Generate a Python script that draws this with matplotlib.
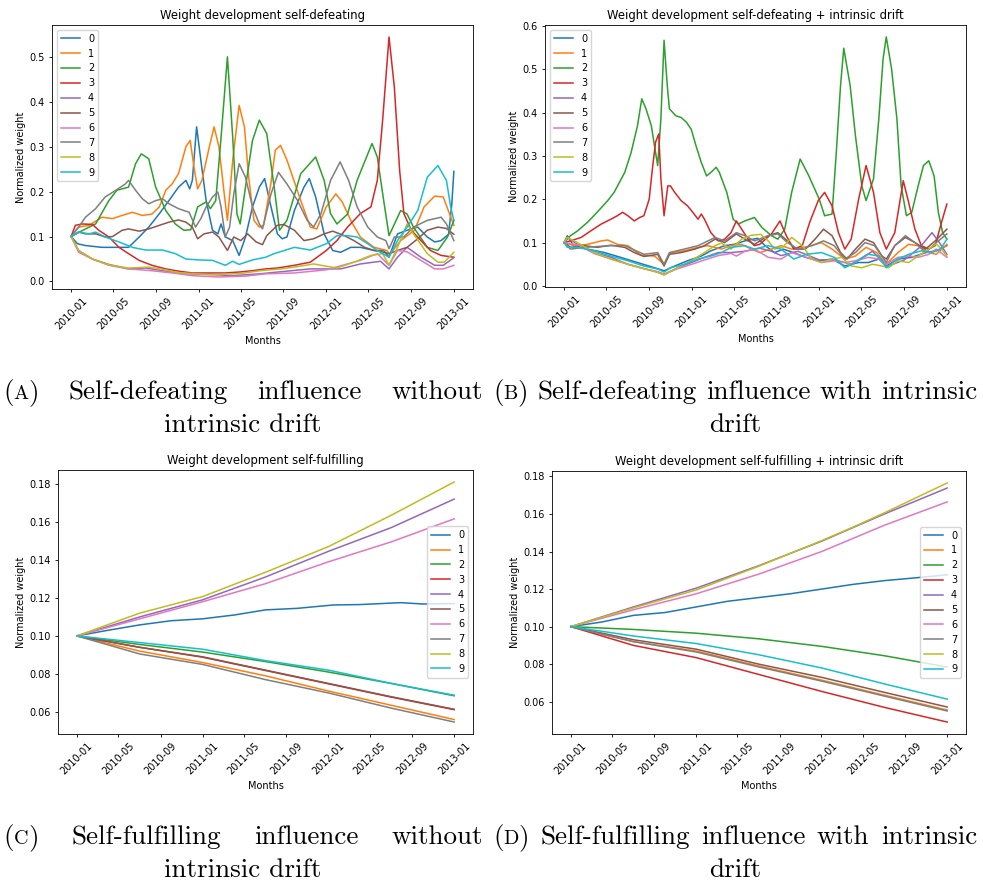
import numpy as np
import matplotlib
matplotlib.use("Agg")
import matplotlib.pyplot as plt
import matplotlib.dates as mdates
from matplotlib import rcParams

# 配置 (scaled-down default look)
config = {
    "font.family": ["DejaVu Sans"],
    "font.size": 7,
    "axes.titlesize": 8.4,
    "axes.labelsize": 7,
    "xtick.labelsize": 7,
    "ytick.labelsize": 7,
    "legend.fontsize": 7,
    "axes.linewidth": 0.6,
    "xtick.major.width": 0.6,
    "ytick.major.width": 0.6,
    "xtick.major.size": 2.5,
    "ytick.major.size": 2.5,
    "xtick.major.pad": 2.5,
    "ytick.major.pad": 2.5,
    "axes.titlepad": 4.2,
    "axes.labelpad": 2.8,
    "lines.linewidth": 1.1,
}
rcParams.update(config)

# ---- data: (months since 2010-01, normalized weight) ----
# self-defeating
a_s0 = [(0, .100), (0.6, .084), (1.35, .080), (2.9, .076), (4.5, .076), (5.4, .076), (6.4, .099), (7.3, .121),
        (8.3, .151), (9.2, .180), (10.1, .210), (10.8, .225), (11.15, .206), (11.4, .225), (11.8, .344),
        (12.2, .270), (12.7, .180), (13.3, .114), (13.8, .106), (14.1, .128), (14.5, .099), (15.2, .091),
        (15.8, .058), (16.4, .099), (17.06, .166), (17.7, .210), (18.2, .229), (18.8, .166), (19.4, .106),
        (19.85, .095), (20.3, .099), (21.0, .158), (21.9, .210), (22.4, .229), (23.0, .188), (23.8, .106),
        (24.6, .069), (25.35, .065), (26.3, .076), (27.2, .076), (28.5, .069), (29.4, .069), (29.9, .054),
        (30.7, .106), (31.6, .114), (32.6, .121), (33.5, .099), (34.2, .088), (34.8, .091), (35.5, .105),
        (35.8, .170), (36, .245)]
a_s1 = [(0, .100), (0.7, .121), (1.7, .125), (2.9, .143), (3.9, .140), (4.8, .147), (5.75, .154), (6.7, .147),
        (7.6, .150), (8.3, .166), (8.9, .203), (9.5, .217), (10.1, .240), (10.8, .300), (11.2, .314),
        (11.6, .247), (11.9, .206), (12.3, .225), (13.0, .300), (13.45, .344), (13.9, .300), (14.4, .195),
        (14.7, .136), (15.2, .270), (15.8, .392), (16.3, .344), (16.7, .232), (17.2, .136), (17.7, .121),
        (18.1, .125), (18.8, .220), (19.2, .292), (19.7, .303), (20.3, .270), (21.6, .180), (22.5, .121),
        (23.1, .117), (24.0, .166), (24.9, .195), (25.5, .177), (26.3, .136), (27.2, .099), (28.5, .076),
        (29.7, .069), (29.95, .060), (31.0, .091), (32.3, .114), (33.2, .166), (34.2, .190), (35.0, .188),
        (35.6, .150), (36, .125)]
a_s2 = [(0, .100), (1.35, .117), (2.3, .128), (3.55, .180), (4.3, .203), (5.4, .210), (6.06, .262), (6.6, .284),
        (7.3, .273), (7.95, .210), (8.9, .158), (9.8, .128), (10.6, .114), (11.25, .115), (11.9, .166),
        (12.7, .177), (13.1, .162), (13.6, .180), (14.1, .320), (14.7, .500), (15.2, .320), (15.6, .150),
        (15.9, .128), (16.4, .210), (17.06, .314), (17.7, .359), (18.4, .329), (19.1, .210), (19.6, .114),
        (20.3, .136), (21.6, .240), (23.0, .277), (23.8, .225), (24.4, .151), (25.0, .128), (26.0, .150),
        (26.9, .225), (28.3, .307), (28.8, .277), (29.4, .180), (29.9, .102), (31.0, .158), (31.6, .150),
        (32.2, .121), (33.5, .076), (34.5, .069), (35.4, .099), (36, .136)]
a_s3 = [(0, .100), (0.4, .125), (1.04, .128), (2.0, .127), (2.6, .114), (3.55, .099), (4.5, .076), (5.4, .062),
        (6.4, .047), (7.6, .036), (8.9, .028), (10.1, .023), (11.4, .019), (13.3, .019), (14.5, .019),
        (15.8, .021), (17.06, .024), (18.3, .028), (19.4, .030), (21.0, .036), (22.5, .043), (24.0, .069),
        (25.0, .091), (26.0, .121), (27.2, .151), (28.2, .166), (28.8, .225), (29.3, .359), (29.9, .544),
        (30.4, .433), (30.9, .247), (31.3, .151), (32.0, .114), (32.9, .091), (33.8, .069), (34.8, .058),
        (36, .054)]
a_s4 = [(0, .100), (0.7, .069), (2.0, .050), (3.55, .038), (5.4, .028), (7.0, .030), (8.6, .024), (10.8, .017),
        (12.7, .016), (15.2, .013), (17.7, .017), (20.3, .023), (22.5, .028), (25.35, .028), (27.2, .039),
        (29.1, .045), (29.9, .028), (30.7, .054), (31.6, .076), (32.9, .054), (34.2, .036), (35.0, .036),
        (36, .053)]
a_s5 = [(0, .100), (0.7, .110), (1.35, .106), (2.3, .106), (3.2, .099), (3.9, .100), (4.8, .114), (5.4, .117),
        (6.4, .112), (7.3, .117), (8.3, .125), (9.2, .132), (10.1, .137), (10.8, .132), (11.4, .121),
        (11.9, .095), (12.5, .106), (13.3, .110), (13.9, .099), (14.7, .069), (15.3, .099), (15.96, .091),
        (16.6, .106), (17.4, .088), (18.0, .082), (18.4, .102), (19.4, .125), (20.0, .127), (21.0, .114),
        (21.9, .091), (22.8, .095), (23.8, .106), (24.6, .112), (25.7, .102), (26.6, .091), (27.6, .076),
        (28.5, .069), (29.4, .065), (29.9, .062), (30.7, .069), (31.6, .076), (32.6, .095), (33.5, .114),
        (34.5, .121), (35.3, .118), (36, .105)]
a_s6 = [(0, .100), (0.7, .065), (2.0, .050), (3.55, .036), (5.4, .028), (7.6, .024), (9.5, .019), (11.4, .013),
        (13.9, .010), (16.4, .012), (18.3, .017), (21.0, .019), (24.0, .026), (27.2, .047), (28.8, .062),
        (29.9, .036), (30.7, .069), (31.6, .066), (32.9, .047), (34.2, .028), (35.0, .028), (36, .036)]
a_s7 = [(0, .100), (0.7, .121), (1.35, .143), (2.3, .162), (3.2, .188), (4.2, .203), (5.1, .217), (5.4, .225),
        (6.06, .203), (6.7, .184), (7.3, .173), (7.95, .180), (8.6, .184), (9.2, .173), (10.1, .162),
        (11.1, .154), (11.7, .121), (12.2, .140), (12.7, .166), (13.3, .188), (13.8, .199), (14.1, .166),
        (14.5, .099), (14.9, .121), (15.3, .195), (15.8, .262), (16.4, .232), (17.06, .166), (17.7, .128),
        (18.0, .117), (18.8, .195), (19.5, .243), (20.3, .217), (21.3, .180), (22.2, .136), (22.8, .121),
        (23.5, .151), (24.4, .225), (25.3, .266), (26.1, .225), (26.9, .166), (27.9, .121), (28.8, .099),
        (29.6, .091), (29.9, .073), (30.4, .099), (31.3, .099), (32.2, .121), (33.5, .136), (34.8, .143),
        (35.3, .128), (36, .091)]
a_s8 = [(0, .100), (0.7, .069), (2.0, .050), (3.55, .037), (5.4, .030), (7.3, .032), (8.6, .027), (10.0, .020),
        (13.0, .015), (16.0, .018), (17.8, .024), (19.7, .028), (21.0, .032), (22.8, .039), (25.0, .030),
        (26.6, .043), (28.2, .058), (29.3, .062), (29.9, .036), (30.7, .076), (31.6, .128), (32.2, .106),
        (33.5, .062), (34.5, .043), (35.1, .043), (36, .065)]
a_s9 = [(0, .100), (0.7, .110), (1.7, .106), (2.3, .110), (3.2, .099), (4.5, .088), (5.75, .076), (7.0, .070),
        (8.6, .070), (9.8, .062), (10.8, .050), (12.0, .048), (13.3, .047), (14.5, .036), (15.2, .045),
        (15.8, .038), (17.06, .048), (18.3, .054), (19.1, .062), (21.0, .076), (22.5, .070), (24.0, .084),
        (25.0, .102), (26.0, .102), (26.9, .099), (27.9, .084), (28.8, .069), (29.9, .054), (30.7, .091),
        (31.6, .121), (32.6, .158), (33.5, .232), (34.5, .258), (35.3, .225), (35.7, .166), (36, .136)]

# self-defeating + intrinsic drift
b_s0 = [(0, .100), (0.3, .116), (0.9, .093), (2.2, .085), (3.8, .077), (5.3, .066), (6.9, .054), (8.5, .042),
        (9.4, .035), (10.4, .046), (11.6, .058), (12.9, .069), (13.8, .081), (15.1, .093), (16.0, .096),
        (17.0, .104), (18.2, .110), (18.9, .093), (19.8, .077), (20.6, .085), (21.6, .077), (22.7, .066),
        (24.0, .058), (25.2, .062), (26.4, .046), (27.7, .054), (28.6, .054), (29.6, .062), (30.3, .046),
        (31.4, .062), (32.7, .066), (34.0, .077), (35.0, .081), (36, .093)]
b_s1 = [(0, .100), (0.9, .093), (2.2, .096), (3.5, .104), (4.1, .106), (5.0, .096), (6.0, .093), (7.2, .071),
        (8.5, .069), (9.4, .050), (10.0, .077), (11.3, .081), (12.6, .089), (13.5, .093), (14.8, .085),
        (15.7, .093), (16.7, .096), (17.6, .085), (18.4, .077), (19.5, .085), (20.4, .093), (21.4, .085),
        (22.7, .089), (24.2, .100), (25.2, .085), (26.4, .062), (27.4, .069), (28.4, .089), (29.4, .077),
        (30.3, .050), (31.4, .077), (32.4, .096), (33.3, .093), (34.3, .077), (35.0, .073), (36, .096)]
b_s2 = [(0, .100), (0.6, .116), (1.26, .127), (2.2, .147), (3.1, .170), (4.1, .197), (4.7, .216), (5.7, .262),
        (6.3, .308), (6.9, .370), (7.3, .432), (7.7, .409), (8.2, .370), (8.6, .308), (8.8, .278), (9.1, .386),
        (9.4, .567), (9.7, .463), (9.9, .409), (10.5, .393), (11.0, .389), (11.5, .378), (11.95, .362),
        (12.4, .324), (12.9, .285), (13.4, .254), (13.8, .262), (14.3, .274), (14.6, .262), (15.3, .216),
        (15.9, .154), (16.4, .143), (17.0, .150), (17.9, .158), (18.6, .135), (19.5, .116), (20.1, .108),
        (20.75, .131), (21.4, .216), (22.2, .293), (23.0, .255), (24.0, .200), (24.5, .162), (25.2, .166),
        (25.6, .308), (26.0, .463), (26.3, .549), (26.9, .463), (27.4, .347), (28.0, .231), (28.4, .197),
        (29.1, .247), (29.6, .386), (30.0, .524), (30.3, .575), (30.8, .501), (31.3, .386), (31.7, .231),
        (32.2, .162), (32.7, .170), (33.3, .231), (33.8, .278), (34.3, .289), (34.8, .254), (35.2, .170),
        (35.6, .123), (36, .108)]
b_s3 = [(0, .100), (0.6, .104), (1.6, .112), (2.5, .127), (3.5, .143), (4.4, .154), (5.0, .162), (5.5, .170),
        (6.0, .162), (6.6, .150), (7.1, .158), (7.5, .162), (8.0, .200), (8.3, .270), (8.6, .332), (8.9, .351),
        (9.1, .247), (9.4, .162), (9.75, .231), (10.0, .231), (10.4, .216), (11.0, .197), (11.6, .185),
        (12.1, .170), (12.6, .154), (12.9, .166), (13.2, .154), (13.8, .123), (14.5, .104), (15.1, .108),
        (15.7, .123), (16.2, .150), (16.7, .131), (17.3, .108), (17.9, .093), (18.4, .096), (19.5, .120),
        (20.3, .150), (20.9, .116), (21.6, .085), (22.4, .093), (23.1, .147), (23.9, .197), (24.5, .216),
        (25.2, .185), (25.8, .123), (26.4, .085), (27.0, .108), (27.7, .200), (28.4, .278), (29.1, .216),
        (29.7, .123), (30.3, .085), (31.1, .123), (31.9, .243), (32.4, .193), (33.0, .131), (33.6, .093),
        (34.3, .085), (34.9, .093), (35.5, .147), (36, .189)]
b_s4 = [(0, .100), (0.3, .112), (1.26, .096), (2.8, .077), (4.4, .066), (6.0, .050), (7.5, .040), (8.8, .032),
        (9.4, .027), (10.7, .042), (11.95, .054), (13.2, .066), (14.5, .077), (15.7, .077), (17.0, .080),
        (18.4, .087), (19.5, .080), (20.4, .070), (22.0, .080), (24.0, .060), (25.5, .060), (27.0, .050),
        (29.0, .080), (30.4, .045), (32.0, .060), (33.5, .090), (34.6, .123), (35.3, .100), (36, .073)]
b_s5 = [(0, .100), (0.6, .089), (1.9, .093), (3.1, .089), (4.4, .094), (5.7, .089), (6.6, .077), (7.5, .068),
        (8.8, .073), (9.4, .046), (9.9, .073), (11.0, .077), (12.3, .085), (13.2, .093), (14.2, .108),
        (15.1, .100), (16.2, .120), (17.0, .108), (17.9, .096), (19.2, .116), (20.1, .123), (21.0, .104),
        (21.8, .085), (22.7, .085), (23.6, .108), (24.4, .131), (25.2, .116), (26.0, .077), (26.6, .062),
        (27.4, .085), (28.3, .108), (29.1, .100), (29.9, .069), (30.3, .062), (31.1, .093), (32.1, .112),
        (33.0, .100), (34.0, .085), (34.9, .104), (36, .131)]
b_s6 = [(0, .100), (1.3, .095), (2.8, .075), (4.4, .062), (6.0, .050), (7.5, .040), (8.8, .033), (9.4, .027),
        (10.7, .040), (12.0, .050), (13.2, .060), (14.5, .070), (15.7, .075), (16.2, .069), (17.0, .080),
        (17.9, .085), (19.2, .066), (20.4, .062), (21.4, .077), (22.4, .069), (23.3, .062), (24.2, .054),
        (25.4, .058), (26.4, .054), (27.4, .058), (28.6, .066), (29.6, .062), (30.3, .050), (31.4, .066),
        (32.4, .069), (33.3, .066), (34.3, .073), (35.0, .085), (36, .066)]
b_s7 = [(0, .100), (0.6, .085), (1.9, .089), (4.4, .093), (5.7, .093), (7.5, .073), (8.8, .077), (9.4, .050),
        (9.9, .077), (11.3, .085), (12.6, .093), (13.2, .100), (14.2, .112), (15.1, .104), (16.2, .123),
        (17.0, .116), (17.9, .104), (19.2, .116), (20.1, .120), (21.0, .100), (22.0, .085), (23.3, .093),
        (24.4, .104), (25.4, .093), (26.4, .062), (27.4, .077), (28.3, .100), (29.2, .093), (30.3, .054),
        (31.1, .093), (32.1, .116), (33.0, .100), (34.0, .077), (35.0, .100), (36, .120)]
b_s8 = [(0, .100), (0.3, .112), (1.26, .100), (2.8, .077), (4.4, .062), (6.0, .050), (7.5, .040), (8.8, .031),
        (9.4, .025), (10.7, .042), (11.95, .058), (13.2, .077), (14.2, .093), (14.8, .099), (15.7, .085),
        (16.7, .108), (17.6, .117), (18.5, .119), (19.2, .104), (19.8, .085), (20.6, .090), (21.4, .112),
        (22.4, .093), (23.3, .062), (24.2, .054), (25.2, .062), (26.1, .066), (27.0, .046), (28.0, .042),
        (29.0, .050), (29.9, .046), (30.5, .042), (31.4, .058), (32.4, .054), (33.3, .069), (34.3, .085),
        (35.0, .097), (35.5, .085), (36, .069)]
b_s9 = [(0, .100), (0.3, .089), (1.26, .089), (2.8, .081), (4.4, .069), (6.0, .058), (7.5, .046), (8.8, .039),
        (9.4, .032), (10.0, .042), (11.3, .050), (12.6, .062), (13.8, .069), (14.8, .077), (15.7, .089),
        (17.0, .093), (17.9, .085), (19.2, .093), (20.4, .085), (21.6, .062), (22.8, .073), (24.2, .077),
        (25.4, .066), (26.4, .042), (27.4, .054), (28.6, .073), (29.6, .069), (30.3, .042), (31.1, .058),
        (32.4, .073), (33.6, .081), (34.6, .077), (35.4, .085), (36, .108)]

# self-fulfilling
c_s0 = [(0, .100), (3, .103), (6, .1058), (9, .108), (12, .109), (15, .111), (18, .1137), (21, .1145),
        (24.5, .1163), (27, .1165), (30.9, .1175), (33, .1168), (36, .117)]
c_s1 = [(0, .100), (6, .092), (12, .086), (18, .079), (24, .071), (30, .0635), (36, .056)]
c_s2 = [(0, .100), (6, .0955), (12, .0915), (18, .0865), (24, .081), (30, .075), (36, .0685)]
c_s3 = [(0, .100), (6, .094), (12, .0888), (18, .0818), (24, .0748), (30, .0678), (36, .0612)]
c_s4 = [(0, .100), (6, .110), (12, .119), (18, .131), (24, .1445), (30, .157), (36, .172)]
c_s5 = [(0, .100), (6, .094), (12, .089), (18, .082), (24, .075), (30, .068), (36, .0614)]
c_s6 = [(0, .100), (6, .109), (12, .118), (18, .1275), (24, .139), (30, .1495), (36, .1616)]
c_s7 = [(0, .100), (6, .0905), (12, .085), (18, .077), (24, .070), (30, .062), (36, .0547)]
c_s8 = [(0, .100), (6, .112), (12, .1207), (18, .1335), (24, .147), (30, .1635), (36, .181)]
c_s9 = [(0, .100), (6, .0965), (12, .093), (18, .087), (24, .082), (30, .075), (36, .0688)]

# self-fulfilling + intrinsic drift
d_s0 = [(0, .100), (3, .1025), (6, .106), (9, .1075), (12, .1105), (15, .1135), (18, .1155), (21, .1175),
        (24, .120), (27, .1225), (30, .1245), (33, .126), (36, .1276)]
d_s1 = [(0, .100), (6, .092), (12, .087), (18, .079), (24, .0715), (30, .0635), (36, .0556)]
d_s2 = [(0, .100), (6, .0985), (12, .0965), (18, .0935), (24, .0895), (30, .0845), (36, .0785)]
d_s3 = [(0, .100), (6, .090), (12, .0835), (18, .0745), (24, .0655), (30, .057), (36, .0492)]
d_s4 = [(0, .100), (6, .1105), (12, .1205), (18, .1325), (24, .1455), (30, .160), (36, .1738)]
d_s5 = [(0, .100), (6, .093), (12, .088), (18, .080), (24, .073), (30, .065), (36, .0572)]
d_s6 = [(0, .100), (6, .109), (12, .1175), (18, .128), (24, .140), (30, .154), (36, .1664)]
d_s7 = [(0, .100), (6, .092), (12, .0865), (18, .0785), (24, .071), (30, .063), (36, .0551)]
d_s8 = [(0, .100), (6, .110), (12, .1195), (18, .1322), (24, .1458), (27, .153), (30, .1606), (36, .1765)]
d_s9 = [(0, .100), (6, .095), (12, .091), (18, .085), (24, .078), (30, .0695), (36, .0614)]

titles = ["Weight development self-defeating",
          "Weight development self-defeating + intrinsic drift",
          "Weight development self-fulfilling",
          "Weight development self-fulfilling + intrinsic drift"]
panel_series = [
    [a_s0, a_s1, a_s2, a_s3, a_s4, a_s5, a_s6, a_s7, a_s8, a_s9],
    [b_s0, b_s1, b_s2, b_s3, b_s4, b_s5, b_s6, b_s7, b_s8, b_s9],
    [c_s0, c_s1, c_s2, c_s3, c_s4, c_s5, c_s6, c_s7, c_s8, c_s9],
    [d_s0, d_s1, d_s2, d_s3, d_s4, d_s5, d_s6, d_s7, d_s8, d_s9],
]
legend_locs = ["upper left", "upper left", "center right", "center right"]

start = np.datetime64("2010-01-01T00")
DAYS_PER_MONTH = 1096 / 36


def to_dates(months):
    hours = np.round(np.asarray(months) * DAYS_PER_MONTH * 24).astype("timedelta64[h]")
    return start + hours


W, H = 983, 881
fig = plt.figure(figsize=(W / 100, H / 100), dpi=100)

# axes boxes in pixels: left, top, right, bottom
boxes = [(52, 25, 473, 289), (545, 25, 966, 287), (58, 470, 473, 734), (552, 471, 966, 734)]

for k in range(4):
    l, t, r, b = boxes[k]
    ax = fig.add_axes([l / W, 1 - b / H, (r - l) / W, (b - t) / H])
    for i, s in enumerate(panel_series[k]):
        m = [p[0] for p in s]
        v = [p[1] for p in s]
        ax.plot(to_dates(m), v, label=str(i))
    ax.set_title(titles[k])
    ax.set_xlabel("Months")
    ax.set_ylabel("Normalized weight")
    ax.xaxis.set_major_locator(mdates.MonthLocator(bymonth=[1, 5, 9]))
    ax.xaxis.set_major_formatter(mdates.DateFormatter("%Y-%m"))
    plt.setp(ax.get_xticklabels(), rotation=45)
    ax.legend(loc=legend_locs[k])

# ---- captions (LaTeX-like, Computer Modern) ----
renderer = fig.canvas.get_renderer()
CAP = 19.5
SC = 14.5


def run_width(s, size):
    t = fig.text(0, 0, s, fontsize=size, family="cmr10")
    w = t.get_window_extent(renderer).width
    t.remove()
    return w


def draw_runs(runs, x, y):
    for s, size in runs:
        fig.text(x / W, 1 - y / H, s, fontsize=size, family="cmr10", va="baseline")
        x += run_width(s, size)


def justified_row(words, x0, x1, y):
    widths = [sum(run_width(s, z) for s, z in w) for w in words]
    gap = (x1 - x0 - sum(widths)) / (len(words) - 1)
    x = x0
    for w, wd in zip(words, widths):
        draw_runs(w, x, y)
        x += wd + gap


def label(letter):
    return [("(", CAP), (letter, SC), (")", CAP)]


captions = [
    (label("A"), ["Self-defeating", "influence", "without"], "intrinsic drift", 3, 483, 399),
    (label("B"), ["Self-defeating", "influence", "with", "intrinsic"], "drift", 493, 977, 399),
    (label("C"), ["Self-fulfilling", "influence", "without"], "intrinsic drift", 3, 483, 844),
    (label("D"), ["Self-fulfilling", "influence", "with", "intrinsic"], "drift", 493, 977, 844),
]
for lab, words, second, x0, x1, y in captions:
    justified_row([lab] + [[(w, CAP)] for w in words], x0, x1, y)
    fig.text(((x0 + x1) / 2) / W, 1 - (y + 33) / H, second, fontsize=CAP,
             family="cmr10", va="baseline", ha="center")

fig.savefig("out.png", dpi=100)
